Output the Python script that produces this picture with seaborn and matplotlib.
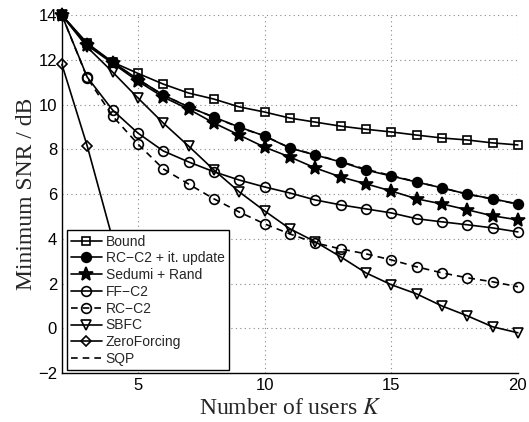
import matplotlib
matplotlib.use("Agg")
import matplotlib.pyplot as plt
import seaborn as sns
import pandas as pd
from matplotlib.lines import Line2D

# Number of users
K = list(range(2, 21))
K_zf = [2, 3, 4, 5]

bound = [14.0, 12.75, 11.9, 11.4, 10.92, 10.52, 10.25, 9.9, 9.67, 9.4,
         9.22, 9.04, 8.9, 8.78, 8.64, 8.51, 8.42, 8.29, 8.2]
rc_c2_update = [14.0, 12.7, 11.9, 11.14, 10.43, 9.9, 9.44, 9.0, 8.6, 8.06,
                7.75, 7.44, 7.08, 6.81, 6.54, 6.28, 6.0, 5.79, 5.56]
sedumi_rand = [14.0, 12.65, 11.85, 11.05, 10.34, 9.8, 9.18, 8.64, 8.1, 7.66,
               7.17, 6.77, 6.46, 6.14, 5.79, 5.56, 5.3, 5.03, 4.85]
ff_c2 = [14.0, 11.23, 9.76, 8.73, 7.93, 7.44, 7.0, 6.63, 6.32, 6.05,
         5.74, 5.52, 5.34, 5.16, 4.9, 4.76, 4.63, 4.49, 4.31]
rc_c2 = [14.0, 11.2, 9.49, 8.24, 7.13, 6.45, 5.79, 5.2, 4.67, 4.22,
         3.82, 3.55, 3.33, 3.06, 2.75, 2.48, 2.26, 2.08, 1.86]
sbfc = [14.0, 12.57, 11.46, 10.3, 9.18, 8.15, 7.08, 6.1, 5.25, 4.45,
        3.87, 3.2, 2.48, 1.95, 1.54, 1.0, 0.56, 0.07, -0.2]
zero_forcing = [11.8, 8.15, 4.0, 0.4]
sqp = [14.0, 12.7, 11.88, 11.13, 10.43, 9.9, 9.44, 8.98, 8.6, 8.07,
       7.76, 7.46, 7.11, 6.83, 6.55, 6.28, 6.0, 5.78, 5.55]

# label, x, y, marker, markersize, filled, linestyle
series = [
    ("Bound", K, bound, "s", 6, False, "-"),
    ("RC\u2212C2 + it. update", K, rc_c2_update, "o", 7, True, "-"),
    ("Sedumi + Rand", K, sedumi_rand, "*", 10, True, "-"),
    ("FF\u2212C2", K, ff_c2, "o", 7, False, "-"),
    ("RC\u2212C2", K, rc_c2, "o", 7, False, (0, (4, 3))),
    ("SBFC", K, sbfc, "v", 7, False, "-"),
    ("ZeroForcing", K_zf, zero_forcing, "D", 5, False, "-"),
    ("SQP", K, sqp, None, 0, False, (0, (4, 3))),
]

sns.set_style("white")
plt.rcParams["font.family"] = ["Liberation Sans", "DejaVu Sans"]
plt.rcParams["mathtext.fontset"] = "stix"

fig = plt.figure(figsize=(5.29, 4.22), dpi=100)
ax = fig.add_axes([0.117, 0.116, 0.862, 0.848])

handles = []
for label, xs, ys, marker, ms, filled, ls in series:
    df = pd.DataFrame({"K": xs, "SNR": ys})
    face = "black" if filled else "none"
    sns.lineplot(data=df, x="K", y="SNR", ax=ax, color="black", lw=1.2,
                 linestyle=ls, marker=marker, markersize=ms,
                 markerfacecolor=face, markeredgecolor="black",
                 markeredgewidth=1.2, legend=False)
    handles.append(Line2D([], [], color="black", lw=1.2, linestyle=ls,
                          marker=marker, markersize=ms, markerfacecolor=face,
                          markeredgecolor="black", markeredgewidth=1.2,
                          label=label))

for line in ax.lines:
    line.set_clip_on(False)

ax.set_xlim(2, 20)
ax.set_ylim(-2, 14)
ax.set_xticks([5, 10, 15, 20])
ax.set_yticks(range(-2, 15, 2))
ax.tick_params(direction="in", length=4, labelsize=12, colors="black")
ax.grid(True, linestyle=(0, (1, 3)), color="#888888", lw=0.8)
for side in ["top", "right"]:
    ax.spines[side].set_visible(False)
for side in ["left", "bottom"]:
    ax.spines[side].set_color("black")
    ax.spines[side].set_linewidth(1.0)

ax.set_xlabel("Number of users $K$", family="Liberation Serif", fontsize=17,
              labelpad=4)
ax.set_ylabel("Minimum SNR / dB", family="Liberation Serif", fontsize=17,
              labelpad=1)

leg = ax.legend(handles=handles, loc="lower left",
                bbox_to_anchor=(0.011, 0.008), borderaxespad=0,
                fontsize=10, handlelength=2.2, handletextpad=0.3,
                labelspacing=0.2, borderpad=0.3, fancybox=False,
                framealpha=1, edgecolor="black")
leg.get_frame().set_linewidth(1.0)
leg.set_zorder(10)

fig.savefig("out.png", dpi=100)
